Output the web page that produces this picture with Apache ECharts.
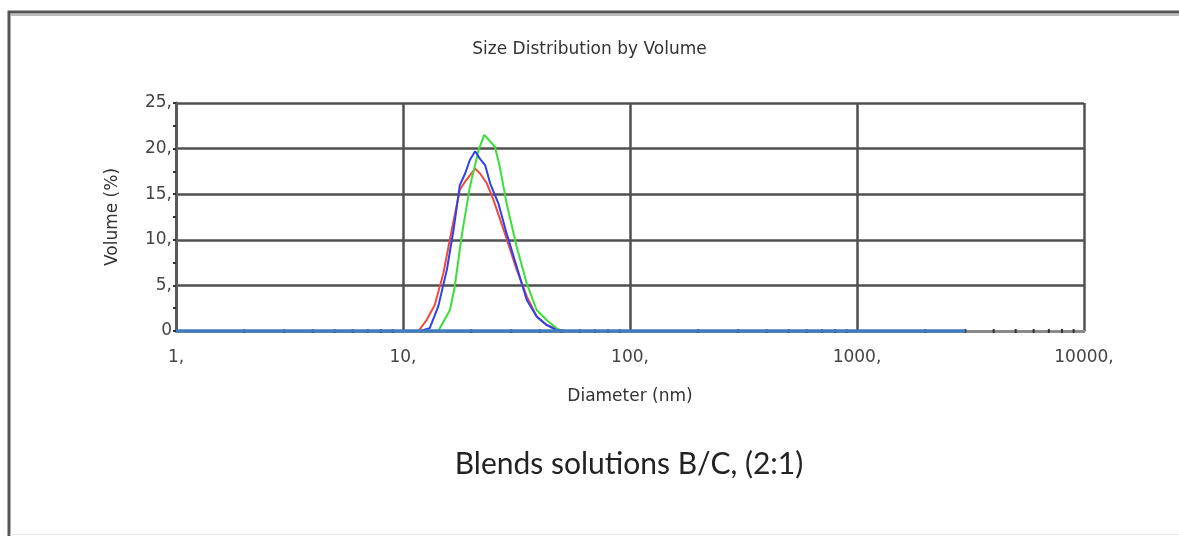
<!DOCTYPE html>
<html>
<head>
<meta charset="utf-8">
<script src="https://cdn.jsdelivr.net/npm/echarts@6/dist/echarts.min.js"></script>
<style>
html,body{margin:0;padding:0;background:#fff;}
#c{width:1179px;height:536px;}
</style>
</head>
<body>
<div id="c"></div>
<script>
// Diameter (nm) / Volume (%) readings
var redX   = [11.7, 12.7, 13.8, 15.05, 16.4, 17.8, 18.8, 20.8, 21.8, 23.4, 25.0, 28.1, 31.7, 35.1, 38.8, 42.9, 49.2, 52];
var redY   = [0, 1.2, 2.85, 6.3, 11.1, 15.5, 16.4, 17.8, 17.3, 16.2, 14.4, 10.7, 6.7, 3.8, 1.6, 0.66, 0.1, 0];
var blueX  = [11.9, 13.1, 14.3, 15.6, 16.7, 17.8, 18.8, 19.7, 20.8, 21.8, 23.0, 24.2, 26.3, 28.6, 31.7, 35.1, 38.8, 42.9, 47.5, 50];
var blueY  = [0, 0.3, 2.7, 6.7, 11.1, 16.0, 17.3, 18.75, 19.7, 18.9, 18.2, 16.2, 14.0, 10.7, 7.05, 3.4, 1.6, 0.66, 0.1, 0];
var greenX = [14.3, 16.1, 16.9, 18.1, 19.7, 21.5, 22.8, 25.4, 26.7, 28.6, 31.7, 35.1, 38.8, 42.9, 47.5, 50];
var greenY = [0, 2.3, 4.86, 10.3, 15.8, 19.8, 21.5, 20.2, 18.0, 14.0, 9.2, 5.2, 2.3, 1.2, 0.3, 0];
var baseX  = [1, 3000];
var baseY  = [0, 0];
var xMinorTicks = [2,3,4,5,6,7,8,9,20,30,40,50,60,70,80,90,200,300,400,500,600,700,800,900,2000,3000,4000,5000,6000,7000,8000,9000];
var yTickLabels = {0:'0', 5:'5,', 10:'10,', 15:'15,', 20:'20,', 25:'25,'};
var xTickLabels = {1:'1,', 10:'10,', 100:'100,', 1000:'1000,', 10000:'10000,'};

function zip(xs, ys){ return xs.map(function(x,i){ return [x, ys[i]]; }); }

var chart = echarts.init(document.getElementById('c'), null, {renderer:'canvas'});
var lbl = {fontFamily:'DejaVu Sans', fontSize:17, color:'#444'};
chart.setOption({
  animation:false,
  backgroundColor:'#fff',
  title:[
    {text:'Size Distribution by Volume', left:'center', top:36,
     textStyle:{fontFamily:'DejaVu Sans', fontSize:17, fontWeight:'normal', color:'#333'}},
    {text:'Blends solutions B/C, (2:1)', left:624, top:444, textAlign:'center',
     textStyle:{fontFamily:'Lato', fontSize:30, fontWeight:'normal', color:'#222'}}
  ],
  graphic:[
    {type:'rect', shape:{x:9, y:12, width:1400, height:800}, style:{fill:null, stroke:'#555', lineWidth:3}, silent:true},
    {type:'line', shape:{x1:11, y1:15, x2:1179, y2:15}, style:{stroke:'#bbb', lineWidth:2}, silent:true},
    {type:'line', shape:{x1:10, y1:534.5, x2:1179, y2:534.5}, style:{stroke:'#e4e4e4', lineWidth:1}, silent:true}
  ],
  grid:{left:176, right:95, top:103, bottom:205, containLabel:false},
  xAxis:{
    type:'log', logBase:10, min:1, max:10000,
    name:'Diameter (nm)', nameLocation:'middle', nameGap:57,
    nameTextStyle:{fontFamily:'DejaVu Sans', fontSize:17, color:'#333'},
    axisLine:{show:true, lineStyle:{color:'#8a8a8a', width:3}},
    axisTick:{show:false},
    axisLabel:Object.assign({margin:18, formatter:function(v){ return xTickLabels[Math.round(v)] || ''; }}, lbl),
    splitLine:{show:true, lineStyle:{color:'#505050', width:2.5}},
    minorTick:{show:false}
  },
  yAxis:{
    type:'value', min:0, max:25, interval:5,
    name:'Volume (%)', nameLocation:'middle', nameGap:55,
    nameTextStyle:{fontFamily:'DejaVu Sans', fontSize:17, color:'#333'},
    axisLine:{show:true, lineStyle:{color:'#5a5a5a', width:3}},
    axisTick:{show:true, length:3, lineStyle:{color:'#333', width:2}},
    minorTick:{show:true, splitNumber:2, length:3, lineStyle:{color:'#333', width:2}},
    axisLabel:Object.assign({margin:4, formatter:function(v){ return yTickLabels[v]; }}, lbl),
    splitLine:{show:true, lineStyle:{color:'#505050', width:2.5}}
  },
  series:[
    {name:'minor ticks', type:'custom', silent:true, z:5, clip:false,
     data:xMinorTicks.map(function(x){ return [x, 0]; }),
     renderItem:function(params, api){
       var p = api.coord([api.value(0), 0]);
       return {type:'line', shape:{x1:p[0], y1:p[1]-2, x2:p[0], y2:p[1]+2}, style:{stroke:'#333', lineWidth:2}};
     }},
    {name:'Red', type:'line', data:zip(redX, redY), symbol:'none', z:6,
     lineStyle:{color:'#f04a3c', width:2}},
    {name:'Green', type:'line', data:zip(greenX, greenY), symbol:'none', z:7,
     lineStyle:{color:'#38e038', width:2}},
    {name:'Blue', type:'line', data:zip(blueX, blueY), symbol:'none', z:8,
     lineStyle:{color:'#2e40f0', width:2}},
    {name:'Baseline', type:'line', data:zip(baseX, baseY), symbol:'none', z:9,
     lineStyle:{color:'#3f7cc0', width:3.5}}
  ]
});
</script>
</body>
</html>
